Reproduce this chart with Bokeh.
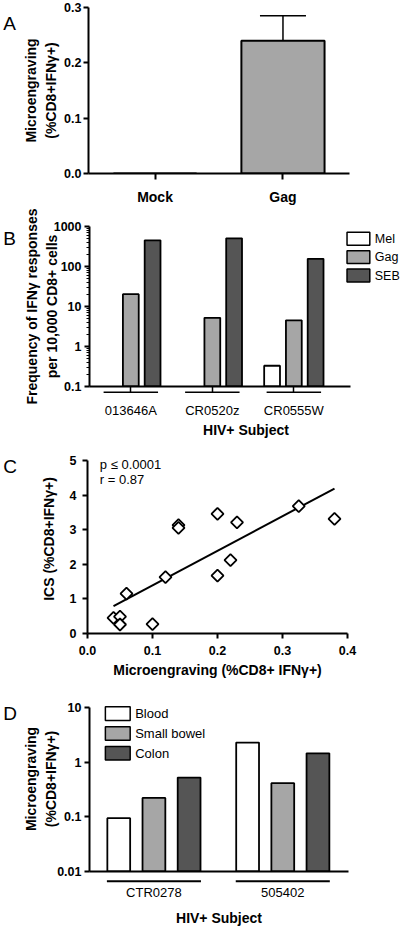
import numpy as np
from bokeh.plotting import figure
from bokeh.layouts import column, row
from bokeh.models import (Range1d, FixedTicker, PrintfTickFormatter, Label,
                          Whisker, TeeHead, ColumnDataSource)
from bokeh.embed import file_html
from bokeh.resources import INLINE

FONT = "Liberation Sans"
WHITE, LIGHT, DARK = "#ffffff", "#a6a6a6", "#555555"

# ---------------- data ----------------
# Panel A
a_conditions = ["Mock", "Gag"]
a_values = [0.0, 0.24]
a_errors = [0.0, 0.045]
a_yticks = [0.0, 0.1, 0.2, 0.3]

# Panel B
b_subjects = ["013646A", "CR0520z", "CR0555W"]
b_stimuli = ["Mel", "Gag", "SEB"]
b_mel = [None, None, 0.33]
b_gag = [20.3, 5.2, 4.5]
b_seb = [452, 505, 156]
b_yticks = [0.1, 1, 10, 100, 1000]

# Panel C
c_microengraving = [0.04, 0.05, 0.05, 0.06, 0.10, 0.12, 0.14, 0.14, 0.20, 0.20, 0.22, 0.23, 0.325, 0.38]
c_ics = [0.45, 0.49, 0.26, 1.15, 0.27, 1.63, 3.13, 3.05, 3.46, 1.67, 2.12, 3.21, 3.68, 3.31]
c_fit_x = [0.04, 0.38]
c_fit_y = [0.79, 4.19]
c_xticks = [0.0, 0.1, 0.2, 0.3, 0.4]
c_yticks = [0, 1, 2, 3, 4, 5]
c_stats = ["p ≤ 0.0001", "r = 0.87"]
c_stats_y = [4.88, 4.45]

# Panel D
d_subjects = ["CTR0278", "505402"]
d_tissues = ["Blood", "Small bowel", "Colon"]
d_blood = [0.095, 2.31]
d_small_bowel = [0.223, 0.417]
d_colon = [0.527, 1.47]
d_yticks = [0.01, 0.1, 1, 10]

STRIP = 20          # width of the column holding the panel letters
MAINW = 402 - STRIP


def make_fig(height, left, right, top, bottom, x_range, y_range, y_type="linear"):
    p = figure(width=MAINW, height=height, x_range=x_range, y_range=y_range, y_axis_type=y_type,
               output_backend="svg", toolbar_location=None,
               min_border_left=left, min_border_right=right,
               min_border_top=top, min_border_bottom=bottom)
    p.outline_line_color = None
    p.grid.visible = False
    p.background_fill_color = "white"
    p.border_fill_color = "white"
    for ax in p.axis:
        ax.axis_line_width = 2
        ax.axis_line_color = "black"
        ax.major_tick_line_width = 2
        ax.major_tick_line_color = "black"
        ax.major_tick_in = 0
        ax.major_tick_out = 5
        ax.minor_tick_line_color = None
        ax.major_label_text_font = FONT
        ax.axis_label_text_font = FONT
        ax.major_label_text_font_style = "bold"
        ax.axis_label_text_font_style = "bold"
        ax.major_label_text_color = "black"
        ax.axis_label_text_color = "black"
        ax.major_label_text_font_size = "12.5px"
        ax.axis_label_text_font_size = "14px"
    p.xaxis.axis_label_text_line_height = 1.0
    p.yaxis.axis_label_text_line_height = 1.25
    return p


def letter_strip(txt, height, baseline):
    s = figure(width=STRIP, height=height, x_range=Range1d(0, STRIP), y_range=Range1d(height, 0),
               output_backend="svg", toolbar_location=None, min_border=0,
               x_axis_location=None, y_axis_location=None)
    s.outline_line_color = None
    s.grid.visible = False
    s.add_layout(Label(x=2.7, y=baseline, text=txt, text_font=FONT, text_font_size="19px",
                       text_color="black", text_align="left", text_baseline="alphabetic"))
    return s


def ext_lin(rng, frac):
    return rng[0] + (rng[1] - rng[0]) * frac


def ext_log(rng, frac):
    a, b = np.log10(rng[0]), np.log10(rng[1])
    return float(10 ** (a + (b - a) * frac))


def bars(p, values, offset, width, color, floor):
    xs, tops = [], []
    for i, v in enumerate(values):
        if v is not None:
            xs.append(i + offset)
            tops.append(v)
    src = ColumnDataSource(dict(x=xs, top=tops))
    return p.vbar(x="x", top="top", bottom=floor, width=width, source=src,
                  fill_color=color, line_color="black", line_width=1.8)


def key(p, names, colors, frame, xr, yr, log, box_left, box_w, first_top, box_h, pitch,
        font_size, gap=5):
    """Colour key placed at page-pixel layout positions inside the plotting frame."""
    left, top, width, height = frame

    def fx(px):
        return ext_lin(xr, (px - left) / width)

    def fy(py):
        f = (top + height - py) / height
        return ext_log(yr, f) if log else ext_lin(yr, f)

    tops = [first_top + k * pitch for k in range(len(names))]
    p.quad(left=[fx(box_left)] * len(names), right=[fx(box_left + box_w)] * len(names),
           top=[fy(t) for t in tops], bottom=[fy(t + box_h) for t in tops],
           fill_color=colors, line_color="black", line_width=1.5)
    for name, t in zip(names, tops):
        p.add_layout(Label(x=fx(box_left + box_w + gap), y=fy(t + box_h / 2), text=name,
                           text_font=FONT, text_font_size=font_size, text_color="black",
                           text_align="left", text_baseline="middle"))


# ---------------- Panel A ----------------
HA = 207
xA, yA = (-0.52, 1.52), (0, 0.3)
pA = make_fig(HA, 86 - STRIP, 53, 7, 30, Range1d(*xA), Range1d(*yA))
srcA = ColumnDataSource(dict(x=list(range(len(a_conditions))), top=a_values))
pA.vbar(x="x", top="top", bottom=0, width=0.65, source=srcA,
        fill_color=LIGHT, line_color="black", line_width=2)
err = [(i, v, v + e) for i, (v, e) in enumerate(zip(a_values, a_errors)) if e > 0]
srcE = ColumnDataSource(dict(base=[t[0] for t in err], lower=[t[1] for t in err],
                             upper=[t[2] for t in err]))
pA.add_layout(Whisker(base="base", lower="lower", upper="upper", source=srcE, dimension="height",
                      line_width=1.5, line_color="black",
                      upper_head=TeeHead(size=46, line_width=1.5, line_color="black"),
                      lower_head=None))
pA.xaxis.ticker = FixedTicker(ticks=list(range(len(a_conditions))))
pA.xaxis.major_label_overrides = {i: c for i, c in enumerate(a_conditions)}
pA.xaxis.major_label_text_font_size = "14px"
pA.xaxis.major_tick_out = 6
pA.xaxis.major_label_standoff = 9
pA.yaxis.ticker = FixedTicker(ticks=a_yticks)
pA.yaxis.formatter = PrintfTickFormatter(format="%.1f")
pA.yaxis.major_label_standoff = 2
pA.yaxis.axis_label = "Microengraving\n(%CD8+IFNγ+)"
pA.yaxis.axis_label_standoff = 2
rowA = row(letter_strip("A", HA, 20), pA, spacing=0)

# ---------------- Panel B ----------------
HB = 233
xB_axis, yB = (-0.507, 2.689), (0.1, 1000)
xB = (xB_axis[0], ext_lin(xB_axis, (MAINW - (86 - STRIP)) / 263))   # frame runs to the right edge
pB = make_fig(HB, 86 - STRIP, 0, 19, 47, Range1d(*xB), Range1d(*yB), "log")
bw, boff = 0.194, 0.267
bars(pB, b_mel, -boff, bw, WHITE, 0.1)
bars(pB, b_gag, 0, bw, LIGHT, 0.1)
bars(pB, b_seb, boff, bw, DARK, 0.1)
pB.xaxis.bounds = xB_axis
pB.xaxis.ticker = FixedTicker(ticks=list(range(len(b_subjects))))
pB.xaxis.major_label_overrides = {i: s for i, s in enumerate(b_subjects)}
pB.xaxis.major_label_text_font_style = "normal"
pB.xaxis.major_label_text_font_size = "13px"
pB.xaxis.major_tick_out = 6
pB.xaxis.major_tick_line_width = 1.5
pB.xaxis.major_label_standoff = 10
pB.xaxis.axis_label = "HIV+ Subject"
pB.xaxis.axis_label_standoff = 1
pB.yaxis.ticker = FixedTicker(ticks=b_yticks,
                              minor_ticks=[m * 10.0 ** e for e in range(-1, 3) for m in range(2, 10)])
pB.yaxis.formatter = PrintfTickFormatter(format="%g")
pB.yaxis.minor_tick_line_color = "black"
pB.yaxis.minor_tick_line_width = 1.2
pB.yaxis.minor_tick_out = 3
pB.yaxis.minor_tick_in = 0
pB.yaxis.major_label_standoff = 3
pB.yaxis.axis_label = "Frequency of IFNγ responses\nper 10,000 CD8+ cells"
pB.yaxis.axis_label_standoff = -9
# group underlines below the axis
ylineB = ext_log(yB, -6 / 167)
pB.segment(x0=[i - 0.334 for i in range(len(b_subjects))], x1=[i + 0.334 for i in range(len(b_subjects))],
           y0=ylineB, y1=ylineB, line_color="black", line_width=1.5, level="overlay")
# frame of B in page pixels: left, top, width, height
key(pB, b_stimuli, [WHITE, LIGHT, DARK], (86, 226, MAINW - (86 - STRIP), 167), xB, yB, True,
    box_left=346, box_w=23, first_top=232, box_h=13.5, pitch=19.2, font_size="12.5px", gap=5)
rowB = row(letter_strip("B", HB, 18), pB, spacing=0)

# ---------------- Panel C ----------------
HC = 242
xC, yC_axis = (0, 0.4), (0, 5)
yC = (0, ext_lin(yC_axis, (173 + 16) / 173))        # frame extends 16 px above the axis top
pC = make_fig(HC, 87 - STRIP, 55, 4, 49, Range1d(*xC), Range1d(*yC))
pC.line(c_fit_x, c_fit_y, line_color="black", line_width=2)
pC.scatter(c_microengraving, c_ics, marker="square", angle=np.pi / 4, size=8.5,
           fill_color="white", line_color="black", line_width=1.8)
pC.yaxis.bounds = yC_axis
pC.xaxis.ticker = FixedTicker(ticks=c_xticks)
pC.xaxis.formatter = PrintfTickFormatter(format="%.1f")
pC.xaxis.major_label_standoff = 7
pC.xaxis.axis_label = "Microengraving (%CD8+ IFNγ+)"
pC.xaxis.axis_label_standoff = 4
pC.yaxis.ticker = FixedTicker(ticks=c_yticks)
pC.yaxis.major_label_standoff = 6
pC.yaxis.axis_label = "ICS (%CD8+IFNγ+)"
pC.yaxis.axis_label_standoff = 10
for txt, yv in zip(c_stats, c_stats_y):
    pC.add_layout(Label(x=0.019, y=yv, text=txt, text_font=FONT, text_font_size="13px",
                        text_align="left", text_baseline="middle", text_color="black"))
rowC = row(letter_strip("C", HC, 28.3), pC, spacing=0)

# ---------------- Panel D ----------------
HD = 246
xD, yD_axis = (-0.5, 1.51), (0.01, 10)
yD = (0.01, ext_log(yD_axis, (168.4 + 22) / 168.4))  # frame extends 22 px above the axis top
pD = make_fig(HD, 87 - STRIP, 54, 4, 51, Range1d(*xD), Range1d(*yD), "log")
dw, doff = 0.177, 0.273
bars(pD, d_blood, -doff, dw, WHITE, 0.01)
bars(pD, d_small_bowel, 0, dw, LIGHT, 0.01)
bars(pD, d_colon, doff, dw, DARK, 0.01)
pD.yaxis.bounds = yD_axis
pD.xaxis.ticker = FixedTicker(ticks=list(range(len(d_subjects))))
pD.xaxis.major_label_overrides = {i: s for i, s in enumerate(d_subjects)}
pD.xaxis.major_label_text_font_style = "normal"
pD.xaxis.major_label_text_font_size = "13px"
pD.xaxis.major_tick_out = 0
pD.xaxis.major_tick_line_color = None
pD.xaxis.major_label_standoff = 13
pD.xaxis.axis_label = "HIV+ Subject"
pD.xaxis.axis_label_standoff = 7
pD.yaxis.ticker = FixedTicker(ticks=d_yticks)
pD.yaxis.formatter = PrintfTickFormatter(format="%g")
pD.yaxis.major_label_standoff = 3
pD.yaxis.axis_label = "Microengraving\n(%CD8+IFNγ+)"
pD.yaxis.axis_label_standoff = -5
ylineD = ext_log(yD_axis, -10 / 168.4)
pD.segment(x0=[i - 0.365 for i in range(len(d_subjects))], x1=[i + 0.365 for i in range(len(d_subjects))],
           y0=ylineD, y1=ylineD, line_color="black", line_width=2, level="overlay")
top_D = 682 + 4
key(pD, d_tissues, [WHITE, LIGHT, DARK], (87, top_D, MAINW - (87 - STRIP) - 54, HD - 4 - 51),
    xD, yD, True, box_left=103, box_w=25, first_top=707, box_h=14, pitch=20.5,
    font_size="13px", gap=5)
rowD = row(letter_strip("D", HD, 36.3), pD, spacing=0)

layout = column(rowA, rowB, rowC, rowD, spacing=0)
open("out.html", "w").write(file_html(layout, INLINE))
